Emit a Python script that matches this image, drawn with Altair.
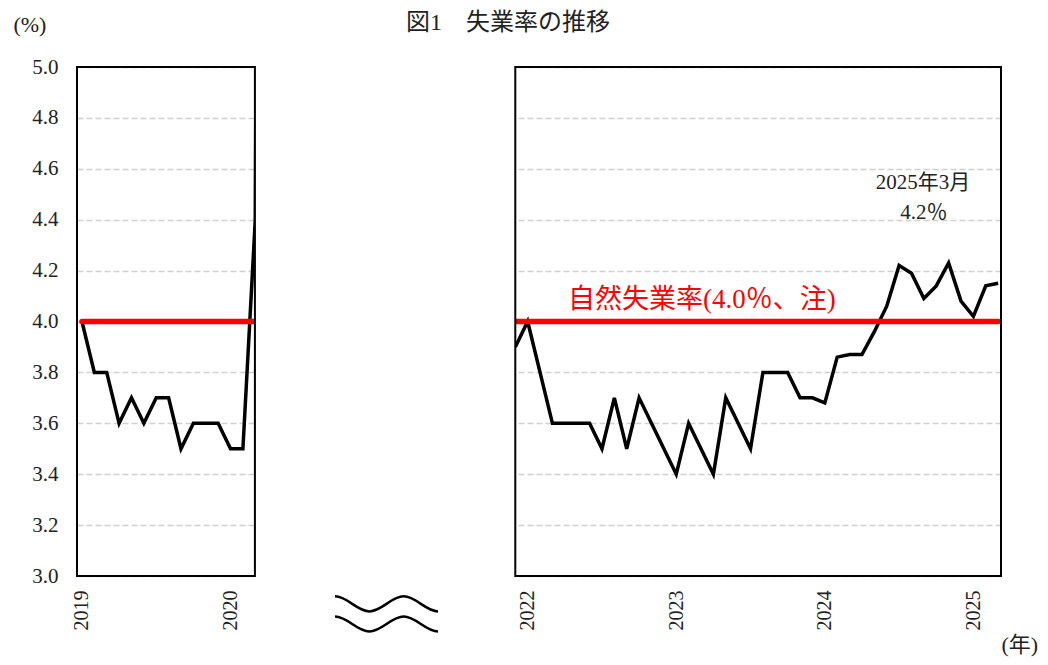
import altair as alt
import pandas as pd

# ---------------- data ----------------
# left panel: Jan 2019 .. Apr 2020
left_start = (2019, 1)
left_rates = [4.0, 3.8, 3.8, 3.6, 3.7, 3.6, 3.7, 3.7, 3.5, 3.6, 3.6, 3.6,
              3.5, 3.5, 4.4, 14.7]
# right panel: Dec 2021 .. Mar 2025
right_start = (2021, 12)
right_rates = [3.9,
               4.0, 3.8, 3.6, 3.6, 3.6, 3.6, 3.5, 3.7, 3.5, 3.7, 3.6, 3.5,
               3.4, 3.6, 3.5, 3.4, 3.7, 3.6, 3.5, 3.8, 3.8, 3.8, 3.7, 3.7,
               3.68, 3.86, 3.87, 3.87, 3.96, 4.06, 4.22, 4.19, 4.09, 4.14, 4.23, 4.08,
               4.02, 4.14, 4.15]
natural_rate = 4.0
year_ticks = [2019, 2020, 2022, 2023, 2024, 2025]
y_ticks = [3.0, 3.2, 3.4, 3.6, 3.8, 4.0, 4.2, 4.4, 4.6, 4.8, 5.0]

# panel extents in month index (Jan 2019 = 0)
panel_lo = [-0.4, 35.0]
panel_hi = [13.97, 74.23]
natural_lo = [0.0, 35.0]
natural_hi = [13.97, 74.0]

title_text = "図1　失業率の推移"
unit_y = "(%)"
unit_x = "(年)"
natural_label = "自然失業率(4.0％、注)"
note_month = "2025年3月"
note_value = "4.2％"


def idx(y, m):
    return (y - 2019) * 12 + (m - 1)


rows = []
s = idx(*left_start)
for i, v in enumerate(left_rates):
    rows.append({"m": s + i, "rate": v, "seg": "a"})
s = idx(*right_start)
for i, v in enumerate(right_rates):
    rows.append({"m": s + i, "rate": v, "seg": "b"})
line_df = pd.DataFrame(rows)

nat_df = pd.DataFrame({"x": natural_lo, "x2": natural_hi, "y": [natural_rate] * 2})
frame_df = pd.DataFrame({"x": panel_lo, "x2": panel_hi, "y": [3.0, 3.0], "y2": [5.0, 5.0]})
gap_df = pd.DataFrame({"x": [panel_hi[0]], "x2": [panel_lo[1]], "y": [2.985], "y2": [5.015]})

FONT = "'Liberation Serif', 'Noto Sans CJK JP', serif"
XMIN, XMAX = panel_lo[0], panel_hi[1]
W, H = 924, 509

xs = alt.Scale(domain=[XMIN, XMAX], nice=False, zero=False)
ys = alt.Scale(domain=[3.0, 5.0], nice=False, zero=False)

x_axis = alt.Axis(values=[idx(y, 1) for y in year_ticks],
                  labelExpr="'' + (2019 + floor(datum.value / 12))",
                  labelAngle=-90, ticks=False, domain=False, grid=False,
                  labelPadding=14, labelFont=FONT, labelFontSize=20,
                  labelColor="#222222", labelFlush=False, labelOverlap=False,
                  title=None)
y_axis = alt.Axis(values=y_ticks, format=".1f", ticks=False, domain=False,
                  labelPadding=19, labelFont=FONT, labelFontSize=21,
                  labelColor="#222222", grid=True, gridDash=[6, 3],
                  gridColor="#d0d0d0", gridWidth=1.5, title=None)

line = alt.Chart(line_df).mark_line(color="#000000", strokeWidth=3.5, clip=True).encode(
    x=alt.X("m:Q", scale=xs, axis=x_axis),
    y=alt.Y("rate:Q", scale=ys, axis=y_axis),
    detail="seg:N",
    order="m:Q",
)

nat = alt.Chart(nat_df).mark_rule(color="#ff0000", strokeWidth=5.5, strokeCap="round").encode(
    x=alt.X("x:Q", scale=xs), x2="x2:Q", y=alt.Y("y:Q", scale=ys)
)

gap = alt.Chart(gap_df).mark_rect(color="#ffffff", opacity=1).encode(
    x=alt.X("x:Q", scale=xs), x2="x2:Q", y=alt.Y("y:Q", scale=ys), y2="y2:Q"
)

frames = alt.Chart(frame_df).mark_rect(fillOpacity=0, stroke="#000000", strokeWidth=2).encode(
    x=alt.X("x:Q", scale=xs), x2="x2:Q", y=alt.Y("y:Q", scale=ys), y2="y2:Q"
)


def label(text, xm, yv, size, color="#222222", align="center"):
    df = pd.DataFrame({"x": [xm], "y": [yv], "t": [text]})
    return alt.Chart(df).mark_text(font=FONT, fontSize=size, color=color,
                                   align=align, baseline="middle").encode(
        x=alt.X("x:Q", scale=xs), y=alt.Y("y:Q", scale=ys), text="t:N")


texts = [
    label(title_text, 34.41, 5.174, 24),
    label(unit_y, -4.2, 5.165, 22),
    label(unit_x, 75.75, 2.729, 22),
    label(natural_label, 39.26, 4.085, 27, color="#ff0000", align="left"),
    label(note_month, 67.94, 4.544, 21),
    label(note_value, 68.0, 4.426, 21),
]

wave_path = ("M -1 -0.341 C -0.76 -0.341 -0.573 -0.049 -0.333 -0.049 "
             "C -0.093 -0.049 0.093 -0.341 0.333 -0.341 "
             "C 0.573 -0.341 0.76 -0.049 1 -0.049 "
             "M -1 0.049 C -0.76 0.049 -0.573 0.341 -0.333 0.341 "
             "C -0.093 0.341 0.093 0.049 0.333 0.049 "
             "C 0.573 0.049 0.76 0.341 1 0.341")
wave_df = pd.DataFrame({"x": [24.6], "y": [2.851]})
wave = alt.Chart(wave_df).mark_point(shape=wave_path, size=10609, filled=False,
                                     stroke="#000000", strokeWidth=2.5, opacity=1).encode(
    x=alt.X("x:Q", scale=xs), y=alt.Y("y:Q", scale=ys))

chart = alt.layer(line, nat, gap, frames, wave, *texts).properties(
    width=W, height=H,
    autosize=alt.AutoSizeParams(type="none"),
    padding={"left": 69, "top": 59, "right": 39, "bottom": 81},
).configure_view(stroke=None).configure(background="#ffffff")

chart.save("out.html", embed_options={"renderer": "svg", "actions": False})
